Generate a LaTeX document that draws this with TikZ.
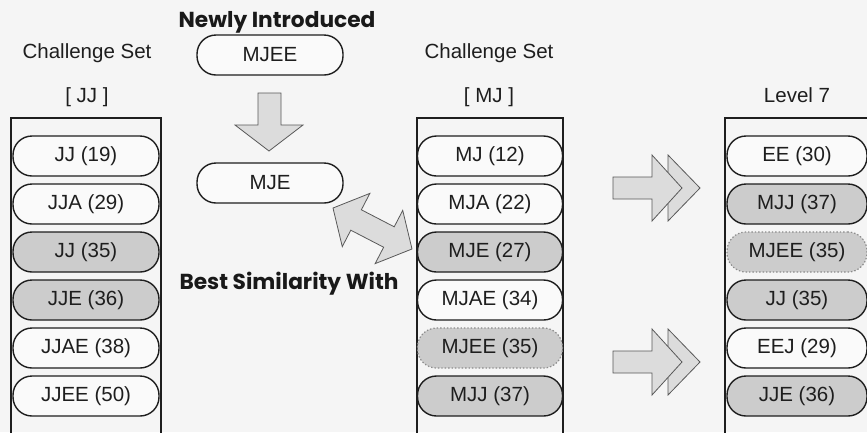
\documentclass[tikz,border=0pt]{standalone}
\usepackage{fontspec}
\setmainfont{Liberation Sans}
\newfontfamily\geo{Poppins}
\definecolor{paper}{RGB}{245,245,245}
\definecolor{pillwhite}{RGB}{250,250,250}
\definecolor{pillgray}{RGB}{204,204,204}
\definecolor{arrowgray}{RGB}{220,220,220}
\definecolor{ink}{RGB}{30,30,30}
\tikzset{
  lab/.style={font=\fontsize{20.5}{24}\selectfont, text=ink},
  headline/.style={font=\geo\bfseries\fontsize{21.7}{26}\selectfont, text=black!90, anchor=base},
  caption/.style={lab, anchor=base},
  pill/.style={lab, draw=ink, line width=1.4pt, rounded corners=19pt,
    minimum height=40pt, inner sep=0pt, fill=pillwhite},
  hot/.style={fill=pillgray},
  fresh/.style={fill=pillgray, draw=black!45, dotted, line width=1.2pt},
  column/.style={draw=ink, line width=1.2pt},
  blockarrow/.style={fill=arrowgray, draw=black!65, line width=0.8pt, line join=miter},
}
\begin{document}
\begin{tikzpicture}[x=1pt,y=-1pt]
\useasboundingbox (0,0) rectangle (867,432);
\clip (0,0) rectangle (867,432);
\fill[paper] (0,0) rectangle (867,432);

% column frames, running off the bottom edge
\draw[column] (11,440) -- (11,118) -- (161,118) -- (161,440);
\draw[column] (417,440) -- (417,118) -- (563,118) -- (563,440);
\draw[column] (725,440) -- (725,118) -- (880,118);

% headings
\node[headline] (newly) at (277,27) {Newly Introduced};
\node[caption] (csl) at (87,58) {Challenge Set};
\node[caption] (jjset) at (87,102) {[ JJ ]};
\node[caption] (csm) at (489,58) {Challenge Set};
\node[caption] (mjset) at (489,102) {[ MJ ]};
\node[caption] (lvl) at (797,102) {Level 7};
\node[headline] (best) at (289,289) {Best Similarity With};

% newly introduced word and its reduced form
\node[pill, minimum width=146pt] (new) at (270,55) {MJEE};
\node[pill, minimum width=146pt] (mje) at (270,183) {MJE};

% left column: challenge set [JJ]
\foreach \i/\t/\s in {1/JJ (19)/, 2/JJA (29)/, 3/JJ (35)/hot, 4/JJE (36)/hot, 5/JJAE (38)/, 6/JJEE (50)/} {
  \node[pill, \s, minimum width=146pt] (l\i) at (86,{108+48*\i}) {\t};
}
% middle column: challenge set [MJ]
\foreach \i/\t/\s in {1/MJ (12)/, 2/MJA (22)/, 3/MJE (27)/hot, 4/MJAE (34)/, 5/MJEE (35)/fresh, 6/MJJ (37)/hot} {
  \node[pill, \s, minimum width=145pt] (m\i) at (490,{108+48*\i}) {\t};
}
% right column: level 7
\foreach \i/\t/\s in {1/EE (30)/, 2/MJJ (37)/hot, 3/MJEE (35)/fresh, 4/JJ (35)/hot, 5/EEJ (29)/, 6/JJE (36)/hot} {
  \node[pill, \s, minimum width=140pt] (r\i) at (797,{108+48*\i}) {\t};
}

% down arrow from the new word to its reduced form
\draw[blockarrow] (258,93) -- (281,93) -- (281,125) -- (303,125) -- (269,151)
  -- (235,125) -- (258,125) -- cycle;

% two-headed arrow between the reduced form and the [MJ] set
\begin{scope}[shift={(372.5,228.5)}, rotate=-27.4]
  \draw[blockarrow] (-44.5,0) -- (-18.5,30) -- (-18.5,11.5) -- (18.5,11.5) -- (18.5,30)
    -- (44.5,0) -- (18.5,-30) -- (18.5,-11.5) -- (-18.5,-11.5) -- (-18.5,-30) -- cycle;
\end{scope}

% double chevron arrows towards level 7
\foreach \c in {188,362} {
  \begin{scope}[shift={(0,\c)}]
    \draw[blockarrow] (668,-33) -- (700,0) -- (668,33) -- cycle;
    \draw[blockarrow] (613,-11) -- (652,-11) -- (652,-33) -- (682,0) -- (652,33)
      -- (652,11) -- (613,11) -- cycle;
  \end{scope}
}
\end{tikzpicture}
\end{document}
